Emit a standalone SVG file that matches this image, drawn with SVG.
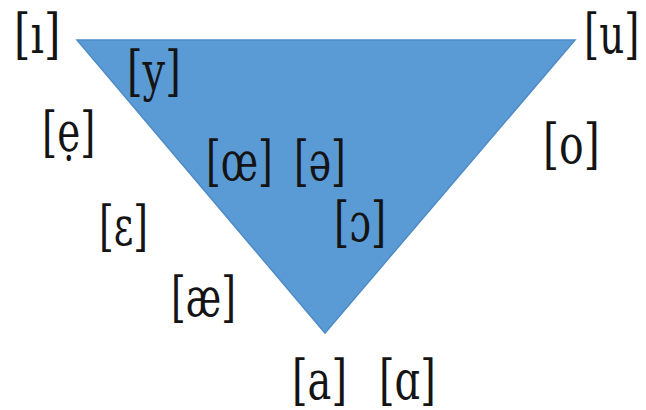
<svg xmlns="http://www.w3.org/2000/svg" width="646" height="410" viewBox="0 0 646 410">
<style>
  .t { font-family: "DejaVu Serif", serif; font-size: 54px; fill: #141414; }
  .tri { fill: #5B9BD5; stroke: #4F8CC5; stroke-width: 1.5; }
</style>
<rect width="646" height="410" fill="#ffffff"/>
<g id="triangle">
  <polygon class="tri" points="77,40 575,40 325,333"/>
</g>
<g id="connectors"></g>
<g id="v-i"><text class="t" font-family="DejaVu Serif" transform="translate(14,53) scale(0.78,1)">[ı]</text></g>
<g id="v-y"><text class="t" font-family="DejaVu Serif" transform="translate(127,90) scale(0.74,1)">[y]</text></g>
<g id="v-e-dot"><text class="t" font-family="DejaVu Serif" transform="translate(42,151) scale(0.72,1)">[ẹ]</text></g>
<g id="v-oe"><text class="t" font-family="DejaVu Serif" transform="translate(206,180) scale(0.70,1)">[œ]</text></g>
<g id="v-schwa"><text class="t" font-family="DejaVu Serif" transform="translate(294,180) scale(0.70,1)">[ə]</text></g>
<g id="v-open-o"><text class="t" font-family="DejaVu Serif" transform="translate(334,241) scale(0.72,1)">[ɔ]</text></g>
<g id="v-epsilon"><text class="t" font-family="DejaVu Serif" transform="translate(99,245) scale(0.70,1)">[ɛ]</text></g>
<g id="v-ae"><text class="t" font-family="DejaVu Serif" transform="translate(171,316) scale(0.70,1)">[æ]</text></g>
<g id="v-a"><text class="t" font-family="DejaVu Serif" transform="translate(292,399) scale(0.74,1)">[a]</text></g>
<g id="v-alpha"><text class="t" font-family="DejaVu Serif" transform="translate(379,399) scale(0.74,1)">[ɑ]</text></g>
<g id="v-u"><text class="t" font-family="DejaVu Serif" transform="translate(584,53) scale(0.72,1)">[u]</text></g>
<g id="v-o"><text class="t" font-family="DejaVu Serif" transform="translate(543,163) scale(0.76,1)">[o]</text></g>
</svg>
